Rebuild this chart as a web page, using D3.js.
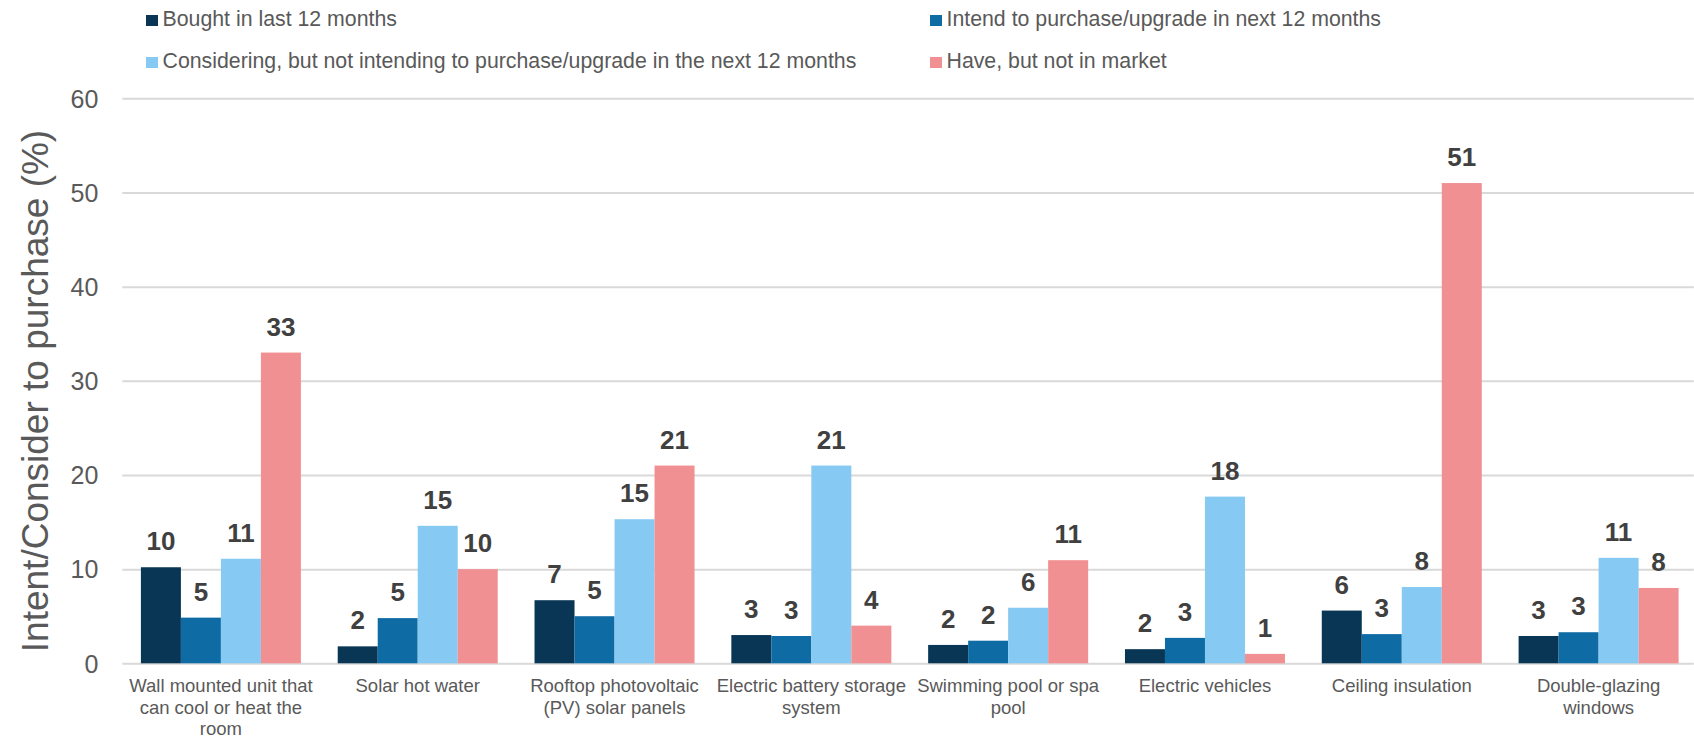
<!DOCTYPE html>
<html>
<head>
<meta charset="utf-8">
<script src="https://cdn.jsdelivr.net/npm/d3@7"></script>
<style>
	body { margin: 0; background: #fff; }
	svg { display: block; font-family: "Liberation Sans", Arial, sans-serif; }
	.grid line { stroke: #d9d9d9; stroke-width: 2; }
	.grid text { fill: #595959; font-size: 25px; }
	.cat text { fill: #595959; font-size: 18.5px; }
	.lbl { fill: #404040; font-size: 26px; font-weight: bold; }
	.legend text { fill: #595959; font-size: 21.3px; }
</style>
</head>
<body>
<div id="chart"></div>
<script>
var categories = [
	"Wall mounted unit that\ncan cool or heat the\nroom",
	"Solar hot water",
	"Rooftop photovoltaic\n(PV) solar panels",
	"Electric battery storage\nsystem",
	"Swimming pool or spa\npool",
	"Electric vehicles",
	"Ceiling insulation",
	"Double-glazing\nwindows"
];
var seriesNames = [
	"Bought in last 12 months",
	"Intend to purchase/upgrade in next 12 months",
	"Considering, but not intending to purchase/upgrade in the next 12 months",
	"Have, but not in market"
];
var bought      = [10.2, 1.8, 6.7, 3.0, 1.95, 1.5, 5.6, 2.9];
var intend      = [4.85, 4.8, 5.0, 2.9, 2.4, 2.7, 3.1, 3.3];
var considering = [11.1, 14.6, 15.3, 21.0, 5.9, 17.7, 8.1, 11.2];
var have        = [33.0, 10.0, 21.0, 4.0, 10.95, 1.0, 51.0, 8.0];
var yTicks = [0, 10, 20, 30, 40, 50, 60];
var colors = ['#083654', '#0e6ba4', '#86c9f3', '#f09092'];

var W = 1694, H = 738;
var M = {t: 98.3, r: 0, b: 74.7, l: 122.5};
var plotRight = 1697;

var values = [bought, intend, considering, have];
var rows = categories.map(function(c, i) {
	return seriesNames.map(function(s, j) { return {cat: c, key: s, value: values[j][i]}; });
});

var scaleX = d3.scaleBand()
	.domain(categories)
	.range([M.l, plotRight])
	.paddingInner(0.187)
	.paddingOuter(0.0935);

var scaleSeries = d3.scaleBand()
	.domain(seriesNames)
	.range([0, scaleX.bandwidth()]);

var scaleY = d3.scaleLinear()
	.domain([0, 60])
	.range([H - M.b, M.t]);

var scaleColor = d3.scaleOrdinal()
	.domain(seriesNames)
	.range(colors);

var svg = d3.select('#chart').append('svg')
	.attr('width', W)
	.attr('height', H);

// ** ------- GRID + Y AXIS ------- **
var axisY = d3.axisLeft(scaleY)
	.tickValues(yTicks)
	.tickSize(-(W - M.l))
	.tickPadding(24);

svg.append('g')
	.attr('class', 'grid')
	.attr('transform', 'translate(' + (M.l - 0.2) + ',0)')
	.call(axisY)
	.call(function(g) { g.select('.domain').remove(); })
	.selectAll('text')
	.attr('dy', '0.35em');

svg.append('text')
	.attr('transform', 'translate(47.5,391) rotate(-90)')
	.attr('text-anchor', 'middle')
	.style('font-size', '37px')
	.style('fill', '#595959')
	.text('Intent/Consider to purchase (%)');

// ** ------- X AXIS LABELS ------- **
var axisX = d3.axisBottom(scaleX).tickSize(0);

var catAxis = svg.append('g')
	.attr('class', 'cat')
	.attr('transform', 'translate(0,' + scaleY(0) + ')')
	.call(axisX);
catAxis.select('.domain').remove();
catAxis.selectAll('.tick text').each(function(d) {
	var t = d3.select(this).text(null).attr('y', 0).attr('dy', null);
	d.split('\n').forEach(function(line, i) {
		t.append('tspan')
			.attr('x', 0)
			.attr('y', 28.7 + i * 21.7)
			.text(line);
	});
});

// ** ------- BARS ------- **
var groups = svg.append('g').attr('class', 'bars')
	.selectAll('g').data(rows).enter().append('g')
	.attr('transform', function(d) { return 'translate(' + scaleX(d[0].cat) + ',0)'; });

groups.selectAll('rect').data(function(d) { return d; }).enter().append('rect')
	.attr('x', function(d) { return scaleSeries(d.key); })
	.attr('y', function(d) { return scaleY(d.value); })
	.attr('width', scaleSeries.bandwidth())
	.attr('height', function(d) { return scaleY(0) - scaleY(d.value); })
	.style('fill', function(d) { return scaleColor(d.key); });

groups.selectAll('.lbl').data(function(d) { return d; }).enter().append('text')
	.attr('class', 'lbl')
	.attr('text-anchor', 'middle')
	.attr('x', function(d) { return scaleSeries(d.key) + scaleSeries.bandwidth() / 2; })
	.attr('y', function(d) { return scaleY(d.value) - 17; })
	.text(function(d) { return d3.format('.0f')(d.value); });

// ** ------- LEGEND ------- **
var legendPos = [[146, 15], [930, 15], [146, 57], [930, 57]];

var legend = svg.append('g').attr('class', 'legend')
	.selectAll('g').data(seriesNames).enter().append('g')
	.attr('transform', function(d, i) { return 'translate(' + legendPos[i][0] + ',' + legendPos[i][1] + ')'; });

legend.append('rect')
	.attr('width', 12)
	.attr('height', 11)
	.style('fill', function(d) { return scaleColor(d); });

legend.append('text')
	.attr('x', 16.5)
	.attr('y', 11.2)
	.text(function(d) { return d; });
</script>
</body>
</html>
